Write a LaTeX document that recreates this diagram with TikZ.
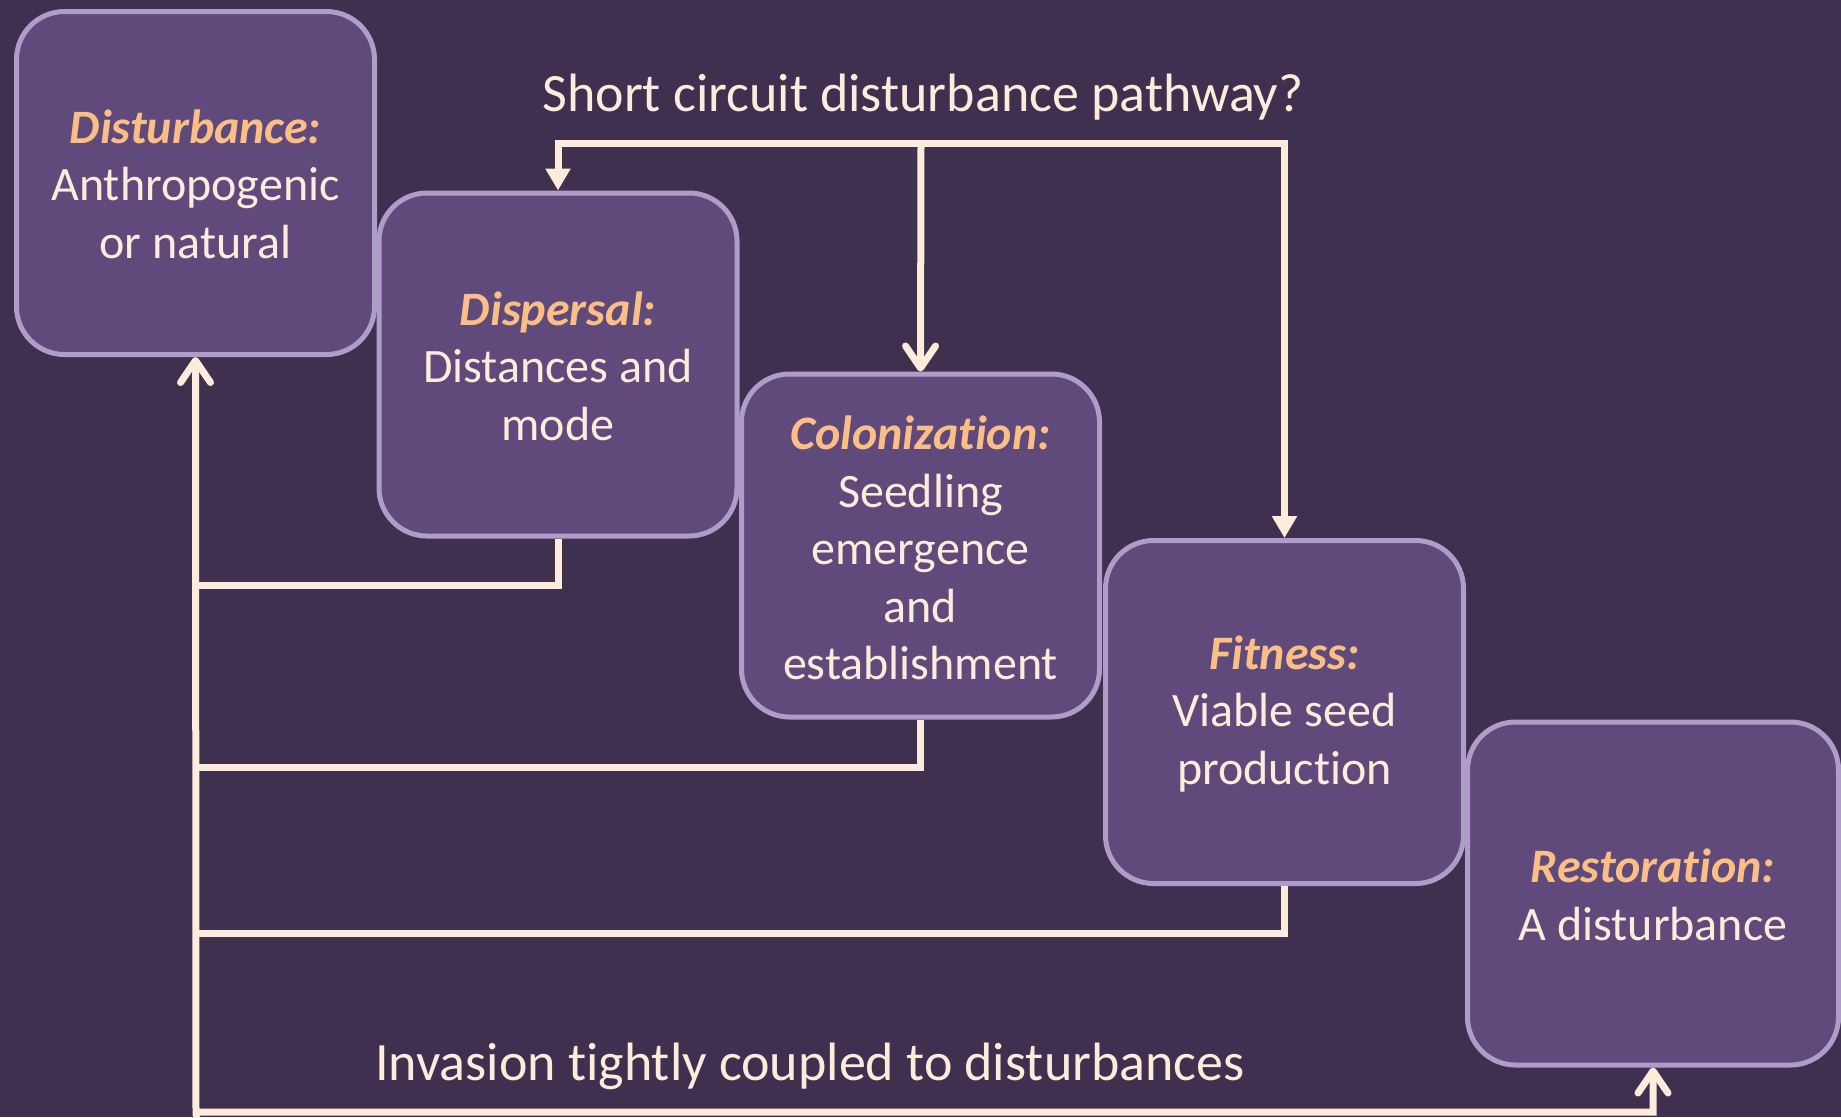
\documentclass[tikz,border=0pt]{standalone}
\usepackage{fontspec}
\setmainfont{Carlito}[Ligatures=NoCommon]
\usetikzlibrary{arrows.meta}
\definecolor{bgc}{HTML}{3F3050}
\definecolor{boxfill}{HTML}{5F4A7B}
\definecolor{boxline}{HTML}{AE9DC9}
\definecolor{cream}{HTML}{FDEBDC}
\definecolor{orng}{HTML}{FBBF86}
\tikzset{
  box/.style={draw=boxline, fill=boxfill, line width=5pt, rounded corners=48pt,
    minimum width=358pt, minimum height=343pt, inner sep=0pt},
  txt/.style={text=cream, align=center, font=\fontsize{48}{57.5}\selectfont, inner sep=0pt},
  bigtxt/.style={text=cream, align=center, font=\fontsize{54}{64}\selectfont, inner sep=0pt},
  conn/.style={draw=cream, line width=7pt, line join=miter},
  tri/.style={-{Triangle[width=24pt,length=22pt]}},
  barb/.style={-{Straight Barb[width=30pt,length=22pt,line width=7pt,line cap=round,line join=round]}},
  dbarb/.style={{Straight Barb[width=30pt,length=22pt,line width=7pt,line cap=round,line join=round]}-{Straight Barb[width=30pt,length=22pt,line width=7pt,line cap=round,line join=round]}},
}
\begin{document}
\begin{tikzpicture}[x=1pt,y=-1pt]
\useasboundingbox (0,0) rectangle (1841,1117);
\fill[bgc] (0,0) rectangle (1841,1117);

% boxes
\node[box] (dist) at (195.5,183) {};
\node[box] (disp) at (558,364.5) {};
\node[box] (col) at (920.5,545.5) {};
\node[box] (fit) at (1284.5,712) {};
\node[box, minimum width=371pt] (rest) at (1653,893.5) {};

% box texts
\node[txt] (tdist) at (195.5,184) {{\color{orng}\bfseries\itshape Disturbance:}\\Anthropogenic\\or natural};
\node[txt] (tdisp) at (558,366) {{\color{orng}\bfseries\itshape Dispersal:}\\Distances and\\mode};
\node[txt] (tcol) at (920.5,548) {{\color{orng}\bfseries\itshape Colonization:}\\Seedling\\emergence\\and\\establishment};
\node[txt] (tfit) at (1284.5,714) {{\color{orng}\bfseries\itshape Fitness:}\\Viable seed\\production};
\node[txt] (trest) at (1653,895) {{\color{orng}\bfseries\itshape Restoration:}\\A disturbance};

% free texts
\node[bigtxt] (short) at (923,97) {Short circuit disturbance pathway?};
\node[bigtxt] (inv) at (810,1066) {Invasion tightly coupled to disturbances};

% connector coordinates
\coordinate (tc) at (921,143);
\coordinate (fb1) at (196,585);
\coordinate (fb2) at (196,767);
\coordinate (fb3) at (196,933);
\coordinate (bl) at (196,1112);
\coordinate (br) at (1653,1112);

% top short-circuit connectors
\draw[conn, tri] (tc) -| (disp.north);
\draw[conn, tri] (tc) -| (fit.north);
\draw[conn, barb] (tc) -- (col.north);

% feedback connectors
\draw[conn] (disp.south) |- (fb1);
\draw[conn] (col.south) |- (fb2);
\draw[conn] (fit.south) |- (fb3);
\draw[conn] (bl) -- (196,1117);
\draw[conn, dbarb] (dist.south) -- (bl) -- (br) -- (rest.south);
\end{tikzpicture}
\end{document}
